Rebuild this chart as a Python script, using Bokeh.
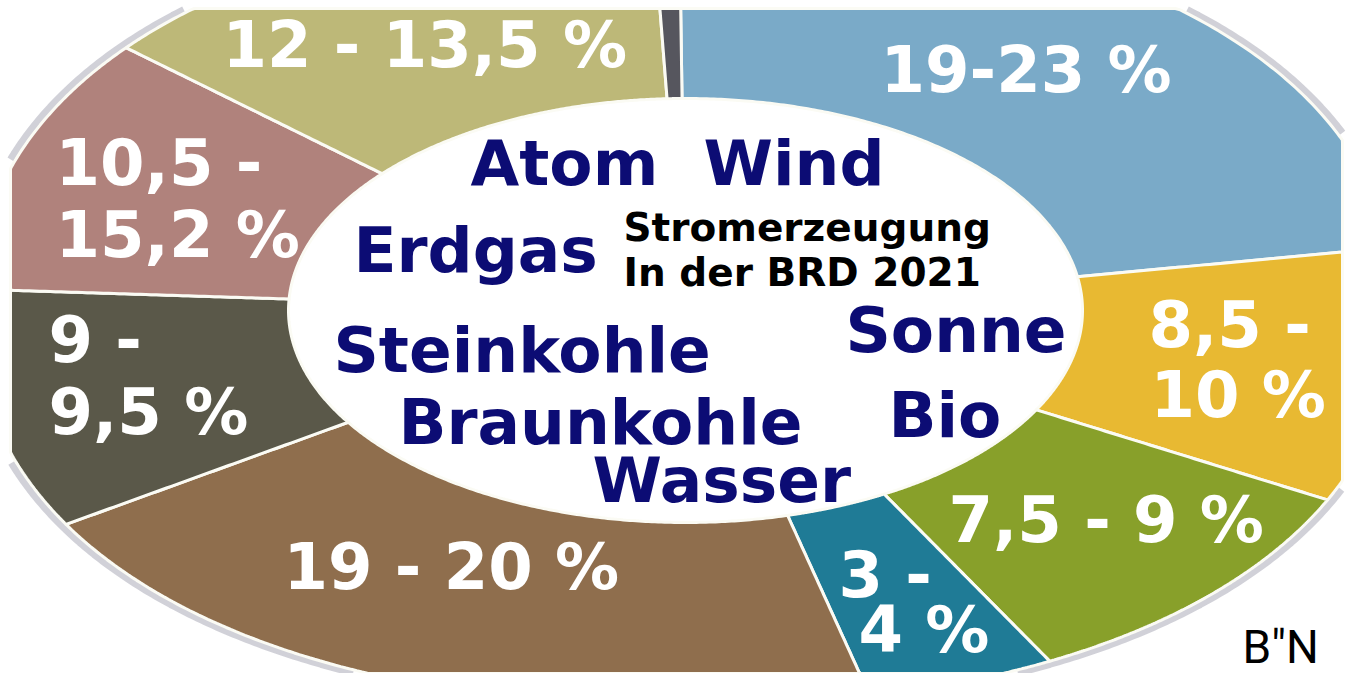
import numpy as np
from bokeh.plotting import figure
from bokeh.models import Range1d, ColumnDataSource
from bokeh.embed import file_html
from bokeh.resources import INLINE
from bokeh.core.properties import value

# ---------------- data ----------------
categories = ["Wind", "Sonne", "Bio", "Wasser", "Braunkohle",
              "Steinkohle", "Erdgas", "Atom", "Sonstige"]
shares = [22.6, 10.3, 8.9, 4.2, 20.3, 9.7, 10.3, 13.1, 0.6]
range_labels = ["19-23 %", "8,5 -\n10 %", "7,5 - 9 %", "3 -\n4 %",
                "19 - 20 %", "9 -\n9,5 %", "10,5 -\n15,2 %",
                "12 - 13,5 %", ""]
title_lines = ["Stromerzeugung", "In der BRD 2021"]
signature = 'B"N'

# ---------------- styles / layout ----------------
colors = ["#7aaac8", "#e8b932", "#88a02a", "#1f7b96", "#8f6e4d",
          "#5a5849", "#b0827c", "#bdb878", "#56565e"]
# label anchors (left, baseline) in screen pixels for each line of each label
pct_pos = {
    "Wind": [(880, 95)],
    "Sonne": [(1148, 350), (1150, 420)],
    "Bio": [(948, 545)],
    "Wasser": [(838, 600), (858, 655)],
    "Braunkohle": [(283, 592)],
    "Steinkohle": [(48, 365), (48, 437)],
    "Erdgas": [(55, 188), (55, 260)],
    "Atom": [(222, 70)],
    "Sonstige": [],
}
name_pos = {
    "Atom": (470, 188), "Wind": (703, 188), "Erdgas": (353, 275),
    "Steinkohle": (333, 375), "Braunkohle": (398, 447),
    "Wasser": (592, 505), "Sonne": (845, 355), "Bio": (888, 440),
}
title_pos = [(623, 243), (623, 288)]
sig_pos = (1242, 665)
PCT_FS, NAME_FS, TITLE_FS, SIG_FS = 64, 63, 39, 46
BASE_FIX = 0.4   # renderer places alphabetic baseline ~0.4em low

CX, CY = 685.0, 310.0
OA, OB, ON = 710.0, 395.0, 2.2   # outer superellipse
IA, IB = 397.0, 212.0            # inner ellipse (hole)
START = -0.5                     # degrees, clockwise from top
X0, X1, Y0, Y1 = 10, 1342, 8, 673  # crop box of the graphic

W, H = 1348, 673
p = figure(width=W, height=H, x_range=Range1d(0, W), y_range=Range1d(-H, 0),
           output_backend="svg", toolbar_location=None, x_axis_type=None, y_axis_type=None,
           min_border=0, background_fill_color="white", border_fill_color="white")
p.outline_line_color = None
p.grid.visible = False


def outer_pt(th, scale=1.0):
    s, c = np.sin(th), np.cos(th)
    r = 1.0 / (np.abs(s) ** ON + np.abs(c) ** ON) ** (1.0 / ON)
    return CX + scale * OA * r * s, CY - scale * OB * r * c


def inner_pt(th):
    return CX + IA * np.sin(th), CY - IB * np.cos(th)


# rim shadow (only where inside the crop box)
th_all = np.linspace(0, 2 * np.pi, 900)
rx, ry = outer_pt(th_all, 1.007)
inside = (rx >= X0) & (rx <= X1) & (ry >= Y0) & (ry <= Y1)
rx = np.where(inside, rx, np.nan)
ry = np.where(inside, ry, np.nan)
p.line(rx, -ry, line_color="#c6c6ce", line_width=7, line_alpha=0.8)

bounds = np.concatenate([[0], np.cumsum(shares)]) / sum(shares) * 360.0 + START
xs, ys = [], []
f = np.linspace(0, 1, 60)
for i in range(len(categories)):
    t = np.radians(np.linspace(bounds[i], bounds[i + 1], 160))
    ox, oy = outer_pt(t)
    ix, iy = inner_pt(t[::-1])
    # radial edges sampled so that clipping works
    e1x = ix[-1] + (ox[0] - ix[-1]) * f
    e1y = iy[-1] + (oy[0] - iy[-1]) * f
    e2x = ox[-1] + (ix[0] - ox[-1]) * f
    e2y = oy[-1] + (iy[0] - oy[-1]) * f
    px = np.clip(np.concatenate([e1x, ox, e2x, ix]), X0, X1)
    py = np.clip(np.concatenate([e1y, oy, e2y, iy]), Y0, Y1)
    xs.append(list(px))
    ys.append(list(-py))

src = ColumnDataSource(dict(xs=xs, ys=ys, color=colors, cat=categories))
p.patches("xs", "ys", source=src, fill_color="color", line_color="#fbfbf4", line_width=3)

# percent labels
tx, ty, tt = [], [], []
for cat, lab in zip(categories, range_labels):
    if not lab:
        continue
    for (px_, py_), line in zip(pct_pos[cat], lab.split("\n")):
        tx.append(px_); ty.append(-(py_ - BASE_FIX * PCT_FS)); tt.append(line)
p.text(x=tx, y=ty, text=tt, text_font=value("DejaVu Sans"), text_font_style="bold",
       text_font_size=f"{PCT_FS}px", text_color="white", text_align="left",
       text_baseline="alphabetic")

# category names
nx, ny, nt = [], [], []
for cat in categories:
    if cat in name_pos:
        nx.append(name_pos[cat][0]); ny.append(-(name_pos[cat][1] - BASE_FIX * NAME_FS))
        nt.append(cat)
p.text(x=nx, y=ny, text=nt, text_font=value("DejaVu Sans"), text_font_style="bold",
       text_font_size=f"{NAME_FS}px", text_color="#0c0c74", text_align="left",
       text_baseline="alphabetic")

# title
p.text(x=[q[0] for q in title_pos], y=[-(q[1] - BASE_FIX * TITLE_FS) for q in title_pos],
       text=title_lines, text_font=value("DejaVu Sans"), text_font_style="bold",
       text_font_size=f"{TITLE_FS}px", text_color="black", text_align="left",
       text_baseline="alphabetic")

# signature
p.text(x=[sig_pos[0]], y=[-(sig_pos[1] - BASE_FIX * SIG_FS)], text=[signature],
       text_font=value("Roboto"), text_font_size=f"{SIG_FS}px", text_color="black",
       text_align="left", text_baseline="alphabetic")

open("out.html", "w").write(file_html(p, INLINE))
